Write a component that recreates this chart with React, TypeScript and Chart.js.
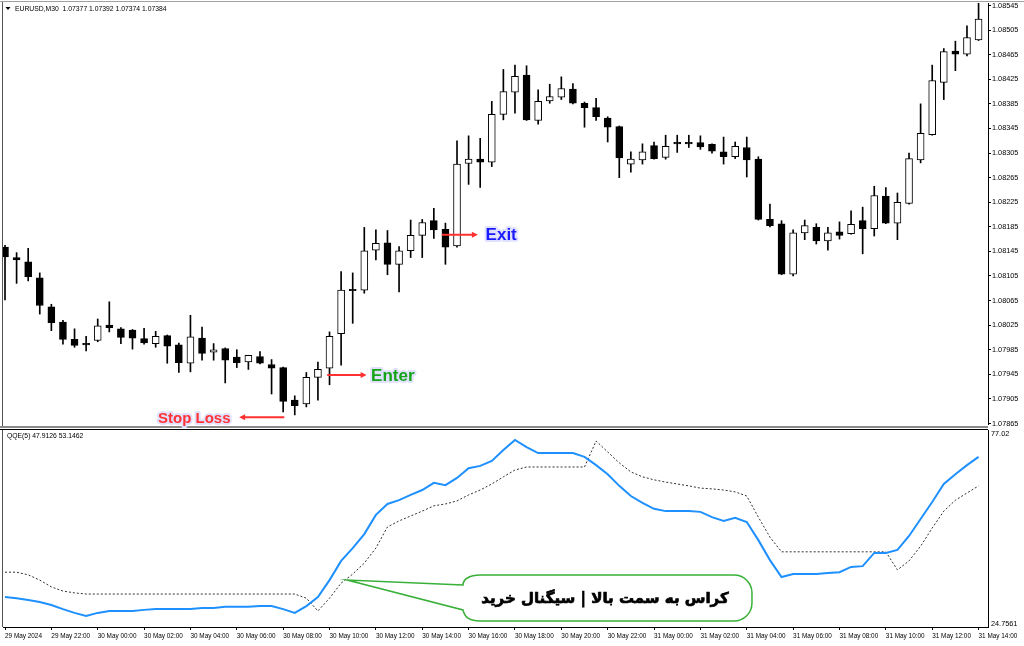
import React, { useEffect, useRef } from 'react';
import { Chart, registerables } from 'chart.js';

Chart.register(...registerables);

// ---- EURUSD M30 candles (29 May 20:00 -> 31 May 14:00) ----
const opens = [
  1.08152, 1.08135, 1.08128, 1.08102, 1.08055, 1.08030, 1.08002, 1.07994, 1.08000, 1.08025,
  1.08019, 1.08017, 1.08003, 1.07995, 1.08008, 1.07993, 1.07963, 1.08004, 1.07981, 1.07987,
  1.07973, 1.07965, 1.07974, 1.07961, 1.07956, 1.07903, 1.07897, 1.07940, 1.07955, 1.08011,
  1.08082, 1.08082, 1.08147, 1.08159, 1.08124, 1.08146, 1.08171, 1.08195, 1.08181, 1.08154,
  1.08288, 1.08295, 1.08290, 1.08368, 1.08404, 1.08432, 1.08358, 1.08390, 1.08396, 1.08409,
  1.08386, 1.08379, 1.08362, 1.08348, 1.08287, 1.08294, 1.08317, 1.08298, 1.08321, 1.08321,
  1.08322, 1.08319, 1.08307, 1.08299, 1.08314, 1.08295, 1.08197, 1.08190, 1.08108, 1.08175,
  1.08184, 1.08162, 1.08177, 1.08174, 1.08195, 1.08182, 1.08235, 1.08191, 1.08223, 1.08294,
  1.08335, 1.08420, 1.08471, 1.08466, 1.08489,
];
const highs = [
  1.08155, 1.08143, 1.08150, 1.08110, 1.08059, 1.08033, 1.08019, 1.08007, 1.08035, 1.08063,
  1.08021, 1.08018, 1.08020, 1.08015, 1.08009, 1.07996, 1.08041, 1.08022, 1.07995, 1.07988,
  1.07985, 1.07976, 1.07982, 1.07969, 1.07957, 1.07910, 1.07948, 1.07965, 1.08014, 1.08112,
  1.08110, 1.08184, 1.08180, 1.08179, 1.08153, 1.08196, 1.08197, 1.08215, 1.08191, 1.08325,
  1.08333, 1.08329, 1.08389, 1.08441, 1.08448, 1.08447, 1.08408, 1.08417, 1.08429, 1.08418,
  1.08388, 1.08394, 1.08364, 1.08349, 1.08307, 1.08320, 1.08323, 1.08334, 1.08334, 1.08334,
  1.08333, 1.08320, 1.08331, 1.08323, 1.08331, 1.08299, 1.08222, 1.08195, 1.08180, 1.08196,
  1.08190, 1.08184, 1.08193, 1.08211, 1.08217, 1.08251, 1.08249, 1.08240, 1.08305, 1.08385,
  1.08448, 1.08475, 1.08487, 1.08512, 1.08549,
];
const lows = [
  1.08066, 1.08093, 1.08097, 1.08043, 1.08016, 1.07994, 1.07989, 1.07983, 1.07998, 1.08014,
  1.07995, 1.07986, 1.07994, 1.07989, 1.07963, 1.07948, 1.07949, 1.07968, 1.07968, 1.07931,
  1.07956, 1.07953, 1.07962, 1.07913, 1.07884, 1.07879, 1.07892, 1.07903, 1.07928, 1.07960,
  1.08028, 1.08077, 1.08131, 1.08107, 1.08079, 1.08135, 1.08135, 1.08166, 1.08124, 1.08152,
  1.08254, 1.08249, 1.08283, 1.08359, 1.08370, 1.08358, 1.08352, 1.08386, 1.08392, 1.08385,
  1.08347, 1.08358, 1.08323, 1.08265, 1.08274, 1.08287, 1.08295, 1.08295, 1.08306, 1.08314,
  1.08311, 1.08305, 1.08287, 1.08296, 1.08266, 1.08196, 1.08185, 1.08107, 1.08105, 1.08164,
  1.08157, 1.08147, 1.08165, 1.08173, 1.08141, 1.08170, 1.08190, 1.08164, 1.08222, 1.08289,
  1.08334, 1.08392, 1.08439, 1.08463, 1.08488,
];
const closes = [
  1.08136, 1.08131, 1.08104, 1.08057, 1.08029, 1.08002, 1.07992, 1.07993, 1.08024, 1.08021,
  1.08005, 1.08004, 1.07996, 1.08007, 1.07991, 1.07964, 1.08006, 1.07979, 1.07985, 1.07968,
  1.07964, 1.07976, 1.07963, 1.07955, 1.07901, 1.07894, 1.07940, 1.07953, 1.08007, 1.08082,
  1.08081, 1.08146, 1.08158, 1.08124, 1.08146, 1.08171, 1.08192, 1.08180, 1.08152, 1.08287,
  1.08295, 1.08290, 1.08368, 1.08405, 1.08430, 1.08359, 1.08389, 1.08397, 1.08410, 1.08386,
  1.08379, 1.08364, 1.08347, 1.08297, 1.08295, 1.08307, 1.08296, 1.08316, 1.08320, 1.08320,
  1.08315, 1.08308, 1.08299, 1.08316, 1.08294, 1.08197, 1.08187, 1.08108, 1.08175, 1.08187,
  1.08162, 1.08175, 1.08171, 1.08189, 1.08182, 1.08236, 1.08191, 1.08225, 1.08296, 1.08337,
  1.08423, 1.08470, 1.08466, 1.08493, 1.08523,
];

// ---- QQE(5) ----
const qqeFast = [
  32.7, 32.4, 31.9, 31.4, 30.6, 29.5, 28.5, 27.7, 28.5, 29.0,
  29.0, 29.0, 29.3, 29.5, 29.5, 29.5, 29.5, 29.8, 29.8, 30.1,
  30.1, 30.1, 30.3, 30.3, 29.5, 28.5, 30.3, 32.7, 37.2, 42.3,
  45.7, 49.4, 54.5, 57.4, 58.4, 59.8, 61.1, 63.0, 62.4, 64.3,
  66.9, 67.5, 68.8, 71.7, 74.4, 72.5, 70.9, 70.9, 70.9, 70.9,
  69.9, 67.7, 65.3, 62.2, 59.5, 57.7, 56.1, 55.5, 55.5, 55.5,
  55.3, 53.9, 52.9, 53.7, 52.6, 47.8, 42.5, 38.0, 38.8, 38.8,
  38.8, 39.1, 39.3, 40.7, 40.9, 44.4, 44.4, 45.2, 48.9, 53.4,
  57.9, 62.7, 65.3, 67.7, 69.9,
];
const qqeSlow = [
  39.3, 39.3, 38.6, 37.2, 35.4, 34.3, 33.8, 33.5, 33.5, 33.5,
  33.5, 33.5, 33.5, 33.5, 33.5, 33.5, 33.5, 33.5, 33.5, 33.5,
  33.5, 33.5, 33.5, 33.5, 33.5, 33.5, 32.4, 29.0, 32.4, 36.4,
  38.8, 41.7, 45.7, 51.3, 52.9, 54.2, 55.5, 56.9, 57.4, 58.2,
  59.8, 61.1, 62.7, 64.6, 66.4, 67.2, 67.2, 67.2, 67.2, 67.2,
  67.2, 74.1, 71.2, 68.3, 65.9, 64.6, 63.8, 63.2, 62.7, 62.2,
  61.6, 61.4, 61.1, 60.6, 59.5, 53.9, 48.6, 44.7, 44.7, 44.7,
  44.7, 44.7, 44.7, 44.7, 44.7, 44.7, 44.7, 39.9, 42.3, 46.2,
  51.0, 55.5, 58.4, 60.3, 62.2,
];

// ---- tick labels ----
const priceTicks = [
  '1.08545', '1.08505', '1.08465', '1.08425', '1.08385', '1.08345', '1.08305', '1.08265', '1.08225',
  '1.08185', '1.08145', '1.08105', '1.08065', '1.08025', '1.07985', '1.07945', '1.07905', '1.07865',
];
const timeLabels = [
  '29 May 2024', '29 May 22:00', '30 May 00:00', '30 May 02:00', '30 May 04:00', '30 May 06:00',
  '30 May 08:00', '30 May 10:00', '30 May 12:00', '30 May 14:00', '30 May 16:00', '30 May 18:00',
  '30 May 20:00', '30 May 22:00', '31 May 00:00', '31 May 02:00', '31 May 04:00', '31 May 06:00',
  '31 May 08:00', '31 May 10:00', '31 May 12:00', '31 May 14:00',
];
const BARS_PER_LABEL = 4;
const qqeRangeLabels = ['77.02', '24.7561'];
const QQE_MAX = 77.02;
const QQE_MIN = 24.7561;
const headerText = 'EURUSD,M30  1.07377 1.07392 1.07374 1.07384';
const qqeHeader = 'QQE(5) 47.9126 53.1462';

// annotations (in data coordinates: bar index / price)
const signalNotes = [
  { text: 'Stop Loss', color: '#ff3333', from: 24.1, to: 20.2, price: 1.07875, textAt: 16.33, size: 15 },
  { text: 'Enter', color: '#17a317', from: 27.8, to: 31.2, price: 1.07944, textAt: 33.46, size: 17 },
  { text: 'Exit', color: '#1a1aff', from: 37.7, to: 40.8, price: 1.08172, textAt: 42.81, size: 17 },
];
const bubble = {
  text: 'کراس به سمت بالا | سیگنال خرید',
  left: 39.43, right: 64.45, top: 38.55, bottom: 26.35,
  tipX: 29.51, tipY: 37.22, attachTop: 35.9, attachBottom: 29.27,
};

const X_MIN = -0.1726;
const X_MAX = 84.814;
const PRICE_MIN = 1.078642;
const PRICE_MAX = 1.085491;
const FONT = "'Liberation Sans', Arial, sans-serif";

const topDecor = {
  id: 'topDecor',
  afterDraw(chart: any) {
    const { ctx, chartArea: a, scales } = chart;
    const xs = scales.x;
    const ys = scales.y;
    ctx.save();
    // frame
    ctx.strokeStyle = '#a0a0a0';
    ctx.lineWidth = 1;
    ctx.beginPath(); ctx.moveTo(0, 1.5); ctx.lineTo(1024, 1.5); ctx.stroke();
    ctx.strokeStyle = '#555555';
    ctx.beginPath(); ctx.moveTo(a.left - 0.5, 2); ctx.lineTo(a.left - 0.5, chart.height); ctx.stroke();
    // splitter
    ctx.fillStyle = '#8a8a8a';
    ctx.fillRect(0, a.bottom + 2, a.right, 2);
    // header
    ctx.fillStyle = '#000';
    ctx.beginPath(); ctx.moveTo(5.5, 7); ctx.lineTo(10.5, 7); ctx.lineTo(8, 10); ctx.closePath(); ctx.fill();
    ctx.font = `6.8px ${FONT}`;
    ctx.textAlign = 'left';
    ctx.textBaseline = 'middle';
    ctx.fillText(headerText, 15, 9);
    // arrows + labels
    for (const n of signalNotes) {
      const y = ys.getPixelForValue(n.price);
      const x1 = xs.getPixelForValue(n.from);
      const x2 = xs.getPixelForValue(n.to);
      const dir = x2 > x1 ? 1 : -1;
      ctx.strokeStyle = '#ff3030';
      ctx.fillStyle = '#ff3030';
      ctx.lineWidth = 2;
      ctx.beginPath(); ctx.moveTo(x1, y); ctx.lineTo(x2 - dir * 4, y); ctx.stroke();
      ctx.beginPath(); ctx.moveTo(x2, y); ctx.lineTo(x2 - dir * 6, y - 3); ctx.lineTo(x2 - dir * 6, y + 3); ctx.closePath(); ctx.fill();
      const tx = xs.getPixelForValue(n.textAt);
      ctx.font = `bold ${n.size}px ${FONT}`;
      ctx.textAlign = 'center';
      ctx.textBaseline = 'middle';
      ctx.lineJoin = 'round';
      ctx.lineWidth = 4;
      ctx.strokeStyle = 'rgba(222,222,255,0.95)';
      ctx.strokeText(n.text, tx, y + 1);
      ctx.fillStyle = n.color;
      ctx.fillText(n.text, tx, y + 1);
    }
    ctx.restore();
  },
};

const botDecor = {
  id: 'botDecor',
  afterDraw(chart: any) {
    const { ctx, chartArea: a, scales } = chart;
    const xs = scales.x;
    const ys = scales.y;
    ctx.save();
    ctx.strokeStyle = '#555555';
    ctx.lineWidth = 1;
    ctx.beginPath(); ctx.moveTo(a.left - 0.5, 0); ctx.lineTo(a.left - 0.5, a.bottom); ctx.stroke();
    ctx.strokeStyle = '#000';
    ctx.beginPath(); ctx.moveTo(0, a.top - 0.5); ctx.lineTo(a.right, a.top - 0.5); ctx.stroke();
    ctx.fillStyle = '#000';
    ctx.font = `6.8px ${FONT}`;
    ctx.textAlign = 'left';
    ctx.textBaseline = 'middle';
    ctx.fillText(qqeHeader, 7, 7);
    ctx.font = `7.3px ${FONT}`;
    ctx.fillText(qqeRangeLabels[0], a.right + 3, ys.getPixelForValue(QQE_MAX) + 4);
    ctx.fillText(qqeRangeLabels[1], a.right + 3, ys.getPixelForValue(QQE_MIN) - 3);

    // speech bubble
    const L = xs.getPixelForValue(bubble.left);
    const R = xs.getPixelForValue(bubble.right);
    const T = ys.getPixelForValue(bubble.top);
    const B = ys.getPixelForValue(bubble.bottom);
    const tipX = xs.getPixelForValue(bubble.tipX);
    const tipY = ys.getPixelForValue(bubble.tipY);
    const aT = ys.getPixelForValue(bubble.attachTop);
    const aB = ys.getPixelForValue(bubble.attachBottom);
    const r = 18;
    ctx.beginPath();
    ctx.moveTo(L + 1, aT);
    ctx.lineTo(tipX, tipY);
    ctx.lineTo(L + 1, aB);
    ctx.bezierCurveTo(L + 3, B - 3, L + 8, B, L + r, B);
    ctx.lineTo(R - r, B);
    ctx.arcTo(R, B, R, B - r, r);
    ctx.lineTo(R, T + r);
    ctx.arcTo(R, T, R - r, T, r);
    ctx.lineTo(L + r, T);
    ctx.bezierCurveTo(L + 8, T, L + 1, T + 4, L + 1, aT);
    ctx.closePath();
    ctx.fillStyle = '#ffffff';
    ctx.fill();
    ctx.strokeStyle = '#38b038';
    ctx.lineWidth = 1.5;
    ctx.lineJoin = 'miter';
    ctx.stroke();
    ctx.fillStyle = '#000';
    ctx.strokeStyle = '#000';
    ctx.lineWidth = 0.7;
    ctx.font = `bold 15px 'DejaVu Sans', sans-serif`;
    ctx.textAlign = 'center';
    ctx.textBaseline = 'middle';
    const cx = (L + R) / 2 - 2;
    const cy = (T + B) / 2 + 1;
    ctx.fillText(bubble.text, cx, cy);
    ctx.strokeText(bubble.text, cx, cy);
    ctx.restore();
  },
};

export default function App() {
  const topRef = useRef<HTMLCanvasElement>(null);
  const botRef = useRef<HTMLCanvasElement>(null);

  useEffect(() => {
    document.body.style.margin = '0';
    const bodies = opens.map((o, i) => ({ x: i, y: [o, closes[i]] }));
    const wicks = lows.map((l, i) => ({ x: i, y: [l, highs[i]] }));
    const bodyFill = opens.map((o, i) => (closes[i] > o ? '#ffffff' : '#000000'));

    const c1 = new Chart(topRef.current as HTMLCanvasElement, {
      type: 'bar',
      data: {
        datasets: [
          {
            label: 'body', data: bodies as any, backgroundColor: bodyFill, borderColor: '#000000',
            borderWidth: 1, borderSkipped: false, barThickness: 7, grouped: false, order: 0, minBarLength: 1.5,
          } as any,
          {
            label: 'wick', data: wicks as any, backgroundColor: '#000000', borderWidth: 0,
            barThickness: 1, grouped: false, order: 1,
          } as any,
        ],
      },
      options: {
        animation: false,
        responsive: false,
        maintainAspectRatio: false,
        layout: { padding: { left: 3, top: 3, right: 0, bottom: 4 } },
        plugins: { legend: { display: false }, tooltip: { enabled: false } },
        scales: {
          x: { type: 'linear', min: X_MIN, max: X_MAX, offset: false, display: false },
          y: {
            position: 'right', min: PRICE_MIN, max: PRICE_MAX,
            afterBuildTicks: (s: any) => { s.ticks = priceTicks.map((t) => ({ value: parseFloat(t) })); },
            afterFit: (s: any) => { s.width = 36; s.paddingTop = 0; s.paddingBottom = 0; },
            ticks: {
              callback: (_v: any, idx: number) => priceTicks[idx],
              font: { family: FONT, size: 7.3 }, color: '#000', padding: 1, autoSkip: false,
            },
            grid: { drawOnChartArea: false, drawTicks: true, tickLength: 3, color: '#000' },
            border: { display: true, color: '#000' },
          } as any,
        },
      },
      plugins: [topDecor],
    });

    const c2 = new Chart(botRef.current as HTMLCanvasElement, {
      type: 'line',
      data: {
        datasets: [
          {
            label: 'QQE', data: qqeFast.map((v, i) => ({ x: i, y: v })), borderColor: '#1e90ff',
            borderWidth: 2, pointRadius: 0, tension: 0, order: 0,
          },
          {
            label: 'QQE slow', data: qqeSlow.map((v, i) => ({ x: i, y: v })), borderColor: '#303030',
            borderWidth: 1, borderDash: [2, 2], pointRadius: 0, tension: 0, order: 1,
          },
        ],
      },
      options: {
        animation: false,
        responsive: false,
        maintainAspectRatio: false,
        layout: { padding: { left: 3, top: 1, right: 0, bottom: 0 } },
        plugins: { legend: { display: false }, tooltip: { enabled: false } },
        scales: {
          x: {
            type: 'linear', min: X_MIN, max: X_MAX, offset: false, position: 'bottom',
            afterBuildTicks: (s: any) => { s.ticks = timeLabels.map((_t, k) => ({ value: k * BARS_PER_LABEL })); },
            afterFit: (s: any) => { s.height = 19; s.paddingLeft = 0; s.paddingRight = 0; },
            ticks: {
              callback: (_v: any, idx: number) => timeLabels[idx], align: 'start', maxRotation: 0, minRotation: 0,
              autoSkip: false, font: { family: FONT, size: 6.4 }, color: '#000', padding: 2,
            },
            grid: { drawOnChartArea: false, drawTicks: true, tickLength: 3, color: '#000' },
            border: { display: true, color: '#000' },
          } as any,
          y: {
            position: 'right', min: QQE_MIN, max: QQE_MAX,
            afterFit: (s: any) => { s.width = 36; s.paddingTop = 0; s.paddingBottom = 0; },
            ticks: { display: false },
            grid: { drawOnChartArea: false, drawTicks: false },
            border: { display: true, color: '#000' },
          } as any,
        },
      },
      plugins: [botDecor],
    });

    return () => { c1.destroy(); c2.destroy(); };
  }, []);

  return (
    <div style={{ position: 'fixed', left: 0, top: 0, width: 1024, height: 646, background: '#ffffff', overflow: 'hidden' }}>
      <canvas ref={topRef} width={1024} height={428} style={{ position: 'absolute', left: 0, top: 0, width: 1024, height: 428 }} />
      <canvas ref={botRef} width={1024} height={217} style={{ position: 'absolute', left: 0, top: 429, width: 1024, height: 217 }} />
    </div>
  );
}
